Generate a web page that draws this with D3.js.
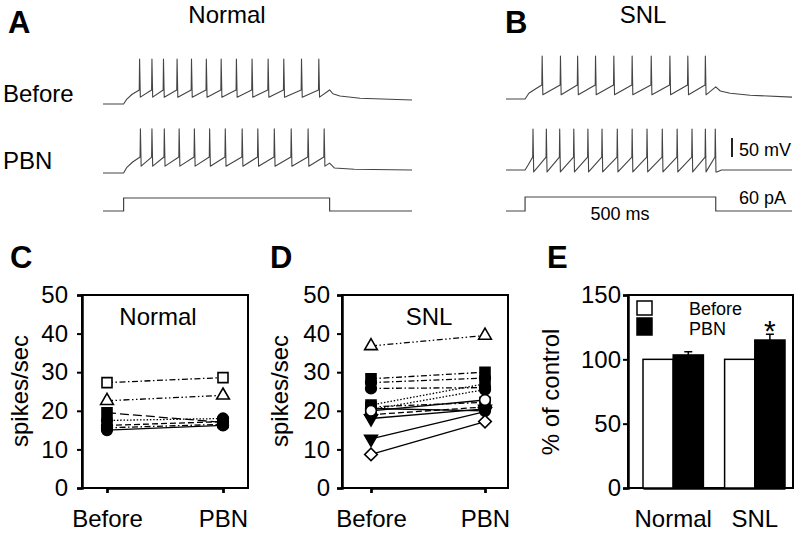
<!DOCTYPE html>
<html><head><meta charset="utf-8">
<script src="https://cdn.jsdelivr.net/npm/d3@7"></script>
<style>
html,body{margin:0;padding:0;background:#fff;}
svg{display:block;font-family:"Liberation Sans",Arial,sans-serif;}
</style></head>
<body>
<svg id="fig" width="800" height="534"></svg>
<script>
// ---------- Panel A/B traces (spike times in ms from step onset) ----------
const spikesA_before = [38, 68, 96, 129, 164, 200, 236, 273, 311, 350, 388, 431, 473];
const spikesA_pbn    = [40, 68, 98, 134, 171, 208, 246, 287, 325, 365, 406, 447, 486];
const spikesB_before = [44, 92, 137, 184, 232, 280, 330, 379, 426, 472];
const spikesB_pbn    = [20, 55, 90, 127, 164, 201, 241, 280, 319, 359, 398, 437, 472, 498];
// levels in mV: [rest, threshold, peak, AHP trough]
const levelsA_before = [-65, -28, 53, -47];
const levelsA_pbn    = [-65, -23, 51, -47];
const levelsB_before = [-65, -28, 48, -54];
const levelsB_pbn    = [-65, -31, 43, -70];
// onset charging [ms, mV]
const onsetA_before = [[0, -65], [8, -52], [20, -40]];
const onsetA_pbn    = [[0, -65], [8, -50], [22, -36]];
const onsetB_before = [[0, -65], [10, -50], [25, -40]];
const onsetB_pbn    = [[0, -65], [8, -52]];
// tail after last spike [ms, mV]
const tailA_before = [[500, -28], [508, -38], [525, -44], [574, -50], [700, -54.5]];
const tailA_pbn    = [[500, -39], [512, -52], [560, -55], [700, -57]];
const tailB_before = [[500, -33], [512, -44], [538, -50], [590, -55], [700, -60]];
const tailB_pbn    = [[503, -70], [515, -65], [700, -65]];
// current step [ms], [pA]
const stimTimes  = [-50, 0, 0, 500, 500, 700];
const stimLevels = [0, 0, 60, 60, 0, 0];

// ---------- Panel C (Normal) ----------
const conditions = ["Before", "PBN"];
const cBefore = [27.3, 22.6, 19.5, 17.5, 16.2, 15.6, 15.0];
const cPBN    = [28.6, 24.0, 17.0, 18.0, 17.2, 16.5, 16.2];
const cMarker = ["sq", "tri", "sq", "circ", "circ", "circ", "circ"];
const cOpen   = [true, true, false, false, false, false, false];
const cDash   = ["dashdot", "dashdotdot", "longdash", "dotted", "dash", "dashdot", "solid"];

// ---------- Panel D (SNL) ----------
const dBefore = [36.8, 28.3, 27.3, 25.8, 21.5, 20.3, 21.0, 20.0, 19.0, 18.0, 20.6, 12.7, 8.7];
const dPBN    = [39.5, 30.0, 28.5, 26.0, 27.0, 25.5, 22.2, 22.8, 21.0, 20.5, 20.0, 19.8, 17.2];
const dMarker = ["tri", "sq", "circ", "circ", "sq", "circ", "sq", "circ", "dia", "tridown", "circ", "tridown", "dia"];
const dOpen   = [true, false, false, false, false, false, false, true, false, false, false, false, true];
const dDash   = ["dashdotdot", "dashdot", "dashdot", "dashdot", "dotted", "dotted", "dashdot", "solid", "dash", "solid", "solid", "solid", "solid"];

// ---------- Panel E ----------
const eGroups = ["Normal", "SNL"];
const eBefore = [100, 100];
const ePBN    = [103.4, 115.0];
const ePBNErr = [2.5, 4.5];
const yTicksCD = [0, 10, 20, 30, 40, 50];
const yTicksE  = [0, 50, 100, 150];

const svg = d3.select("#fig");
const FONT = 24;

// ===================== Traces =====================
function tracePoints(spikes, lv, onset, tail) {
  const [rest, thr, peak, trough] = lv;
  const pts = [[-50, rest]];
  onset.forEach(p => pts.push(p));
  spikes.forEach((t, i) => {
    pts.push([t, thr]);
    pts.push([t + 0.8, peak]);
    pts.push([t + 2.6, trough]);
  });
  tail.forEach(p => pts.push(p));
  return pts;
}
const traceColor = "#444";
function drawTrace(xs, baseY, spikes, lv, onset, tail) {
  const ys = d3.scaleLinear().domain([-65, -15]).range([baseY, baseY - 19]);
  const line = d3.line().x(d => xs(d[0])).y(d => ys(d[1]));
  svg.append("path").attr("d", line(tracePoints(spikes, lv, onset, tail)))
    .attr("fill", "none").attr("stroke", traceColor).attr("stroke-width", 1.1)
    .attr("stroke-linejoin", "round");
}
function drawStim(xs, baseY, highY) {
  const ys = d3.scaleLinear().domain([0, 60]).range([baseY, highY]);
  const line = d3.line().x(d => xs(d[0])).y(d => ys(d[1]));
  svg.append("path").attr("d", line(stimTimes.map((t, i) => [t, stimLevels[i]])))
    .attr("fill", "none").attr("stroke", traceColor).attr("stroke-width", 1.2);
}
const xA = d3.scaleLinear().domain([-50, 700]).range([103, 412]);
const xB = d3.scaleLinear().domain([-50, 700]).range([506, 792]);
drawTrace(xA, 104, spikesA_before, levelsA_before, onsetA_before, tailA_before);
drawTrace(xA, 173, spikesA_pbn, levelsA_pbn, onsetA_pbn, tailA_pbn);
drawTrace(xB, 99, spikesB_before, levelsB_before, onsetB_before, tailB_before);
drawTrace(xB, 170, spikesB_pbn, levelsB_pbn, onsetB_pbn, tailB_pbn);
drawStim(xA, 211, 198);
drawStim(xB, 211, 197);

function txt(x, y, s, size, opts = {}) {
  const t = svg.append("text").attr("x", x).attr("y", y).text(s)
    .attr("font-size", size).attr("fill", "#000");
  if (opts.anchor) t.attr("text-anchor", opts.anchor);
  if (opts.bold) t.attr("font-weight", "bold");
  return t;
}
txt(8, 33, "A", 31, {bold: true});
txt(505, 33, "B", 31, {bold: true});
txt(227, 23, "Normal", FONT, {anchor: "middle"});
txt(643, 23, "SNL", FONT, {anchor: "middle"});
txt(3, 102, "Before", FONT);
txt(3, 169, "PBN", FONT);
// scale bar
svg.append("line").attr("x1", 732).attr("x2", 732).attr("y1", 138).attr("y2", 157)
  .attr("stroke", "#222").attr("stroke-width", 2);
txt(739, 156, "50 mV", 18);
txt(739, 204, "60 pA", 18);
txt(620, 220, "500 ms", 18, {anchor: "middle"});

// ===================== Line panels =====================
const dashMap = {
  solid: null,
  dash: "6,3",
  longdash: "9,4",
  dotted: "1.5,1.8",
  dashdot: "6,2.5,1.5,2.5",
  dashdotdot: "6,2.5,1.5,2.5,1.5,2.5"
};
function markerPath(type) {
  if (type === "sq") return d3.symbol(d3.symbolSquare, 100)();
  if (type === "tri" || type === "tridown") return d3.symbol(d3.symbolTriangle, 70)();
  if (type === "circ") return d3.symbol(d3.symbolCircle, 90)();
  if (type === "dia") return d3.symbol(d3.symbolSquare, 80)();
}
function markerRot(type) {
  if (type === "tridown") return " rotate(180)";
  if (type === "dia") return " rotate(45)";
  return "";
}
function linePanel(x0, x1, pl, pr, before, pbn, markers, open, dashes, title, titleX, letter, labelPad, ylabX) {
  const y0 = 295, y1 = 488;
  const y = d3.scaleLinear().domain([0, 50]).range([y1, y0]);
  const x = d3.scalePoint().domain(conditions).range([x0 + pl, x1 - pr]);
  const g = svg.append("g");
  g.append("rect").attr("x", x0).attr("y", y0).attr("width", x1 - x0).attr("height", y1 - y0)
    .attr("fill", "none").attr("stroke", "#000").attr("stroke-width", 2);
  const ya = g.append("g").attr("transform", `translate(${x0},0)`)
    .call(d3.axisLeft(y).tickValues(yTicksCD).tickSize(5).tickPadding(labelPad));
  ya.select(".domain").attr("stroke-width", 2.5);
  ya.selectAll(".tick line").attr("stroke-width", 2);
  ya.selectAll("text").attr("font-size", FONT).attr("font-family", "Liberation Sans, Arial, sans-serif").attr("fill", "#000");
  const xa = g.append("g").attr("transform", `translate(0,${y1})`)
    .call(d3.axisBottom(x).tickSize(5).tickPadding(17));
  xa.select(".domain").attr("stroke-width", 2.5);
  xa.selectAll(".tick line").attr("stroke-width", 2);
  xa.selectAll("text").attr("font-size", FONT).attr("font-family", "Liberation Sans, Arial, sans-serif").attr("fill", "#000");
  before.forEach((b, i) => {
    g.append("line").attr("x1", x("Before")).attr("y1", y(b))
      .attr("x2", x("PBN")).attr("y2", y(pbn[i]))
      .attr("stroke", "#000").attr("stroke-width", 1.3)
      .attr("stroke-dasharray", dashMap[dashes[i]]);
  });
  const order = d3.range(before.length).sort((a, b) => (open[a] ? 1 : 0) - (open[b] ? 1 : 0));
  order.forEach(i => {
    [["Before", before[i]], ["PBN", pbn[i]]].forEach(([c, v]) => {
      g.append("path").attr("d", markerPath(markers[i]))
        .attr("transform", `translate(${x(c)},${y(v)})${markerRot(markers[i])}`)
        .attr("fill", open[i] ? "#fff" : "#000").attr("stroke", "#000").attr("stroke-width", 1.6);
    });
  });
  txt(titleX, 325, title, FONT, {anchor: "middle"});
  txt(x0 - 72, 268, letter, 31, {bold: true});
  svg.append("text").attr("transform", `translate(${ylabX},391) rotate(-90)`)
    .attr("text-anchor", "middle").attr("font-size", FONT).text("spikes/sec");
}
linePanel(82, 248, 25, 25, cBefore, cPBN, cMarker, cOpen, cDash, "Normal", 158, "C", 9, 28);
linePanel(342, 508, 29, 23, dBefore, dPBN, dMarker, dOpen, dDash, "SNL", 429, "D", 7, 288);

// ===================== Panel E =====================
(function () {
  const x0 = 628, x1 = 793, y0 = 295, y1 = 488;
  const y = d3.scaleLinear().domain([0, 150]).range([y1, y0]);
  const x = d3.scaleBand().domain(eGroups).range([643, 785]).paddingInner(0.26).paddingOuter(0);
  const sub = d3.scaleBand().domain(conditions).range([0, x.bandwidth()]);
  const g = svg.append("g");
  g.append("rect").attr("x", x0).attr("y", y0).attr("width", x1 - x0).attr("height", y1 - y0)
    .attr("fill", "none").attr("stroke", "#000").attr("stroke-width", 2);
  const ya = g.append("g").attr("transform", `translate(${x0},0)`)
    .call(d3.axisLeft(y).tickValues(yTicksE).tickSize(5).tickPadding(2));
  ya.select(".domain").attr("stroke-width", 2.5);
  ya.selectAll(".tick line").attr("stroke-width", 2);
  ya.selectAll("text").attr("font-size", FONT).attr("font-family", "Liberation Sans, Arial, sans-serif").attr("fill", "#000");
  const xa = g.append("g").attr("transform", `translate(0,${y1})`)
    .call(d3.axisBottom(x).tickSize(0).tickPadding(22));
  xa.select(".domain").attr("stroke-width", 2.5);
  xa.selectAll("text").attr("font-size", FONT).attr("font-family", "Liberation Sans, Arial, sans-serif").attr("fill", "#000");
  eGroups.forEach((grp, i) => {
    g.append("rect").attr("x", x(grp) + sub("Before")).attr("y", y(eBefore[i]))
      .attr("width", sub.bandwidth()).attr("height", y(0) - y(eBefore[i]))
      .attr("fill", "#fff").attr("stroke", "#000").attr("stroke-width", 1.5);
    g.append("rect").attr("x", x(grp) + sub("PBN")).attr("y", y(ePBN[i]))
      .attr("width", sub.bandwidth()).attr("height", y(0) - y(ePBN[i]))
      .attr("fill", "#000").attr("stroke", "#000").attr("stroke-width", 1.5);
    const cx = x(grp) + sub("PBN") + sub.bandwidth() / 2;
    g.append("line").attr("x1", cx).attr("x2", cx).attr("y1", y(ePBN[i])).attr("y2", y(ePBN[i] + ePBNErr[i]))
      .attr("stroke", "#000").attr("stroke-width", 1.5);
    g.append("line").attr("x1", cx - 4).attr("x2", cx + 4).attr("y1", y(ePBN[i] + ePBNErr[i])).attr("y2", y(ePBN[i] + ePBNErr[i]))
      .attr("stroke", "#000").attr("stroke-width", 1.5);
  });
  const sx = x("SNL") + sub("PBN") + sub.bandwidth() / 2;
  txt(sx, y(ePBN[1] + ePBNErr[1]) + 7, "*", 30, {anchor: "middle"});
  g.append("rect").attr("x", 637).attr("y", 301).attr("width", 15).attr("height", 14)
    .attr("fill", "#fff").attr("stroke", "#000").attr("stroke-width", 1.5);
  g.append("rect").attr("x", 637).attr("y", 318).attr("width", 15).attr("height", 17)
    .attr("fill", "#000").attr("stroke", "#000").attr("stroke-width", 1.5);
  txt(689, 315, "Before", 18);
  txt(689, 335, "PBN", 18);
  txt(547, 268, "E", 31, {bold: true});
  svg.append("text").attr("transform", `translate(559,392) rotate(-90)`)
    .attr("text-anchor", "middle").attr("font-size", FONT).text("% of control");
})();
</script>
</body></html>
